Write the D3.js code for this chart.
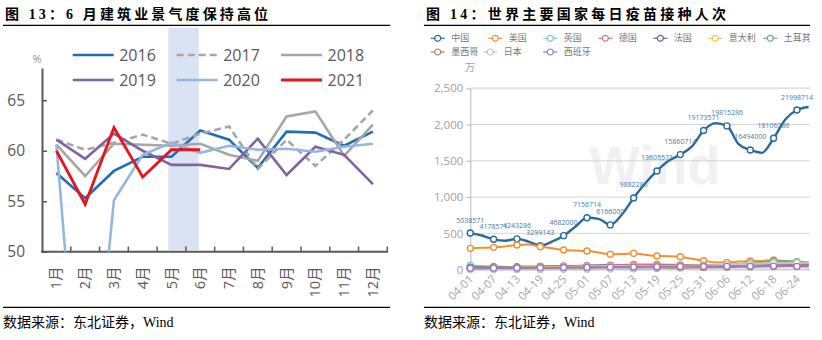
<!DOCTYPE html>
<html>
<head>
<meta charset="utf-8">
<script src="https://cdn.jsdelivr.net/npm/d3@7"></script>
<style>
  body { margin: 0; background: #fff; }
  svg { display: block; }
</style>
</head>
<body>
<div id="chart"></div>
<script>
// ---- 图13 建筑业商务活动指数 ----
var months = ["1月", "2月", "3月", "4月", "5月", "6月", "7月", "8月", "9月", "10月", "11月", "12月"];
var years = ["2016", "2017", "2018", "2019", "2020", "2021"];
var pmi2016 = [57.8, 55.3, 58.0, 59.4, 59.4, 62.0, 61.1, 58.3, 61.9, 61.8, 60.5, 61.9];
var pmi2017 = [61.1, 60.1, 60.8, 61.6, 60.7, 61.7, 62.4, 58.2, 61.1, 58.5, 61.1, 64.0];
var pmi2018 = [60.6, 57.5, 60.7, 60.6, 60.5, 60.7, 59.6, 59.0, 63.4, 63.9, 59.5, 62.6];
var pmi2019 = [61.1, 59.2, 61.7, 60.0, 58.6, 58.6, 58.2, 61.2, 57.6, 60.4, 59.6, 56.7];
var pmi2020 = [60.6, 26.0, 55.1, 59.6, 60.8, 59.8, 60.5, 60.1, 60.2, 59.9, 60.4, 60.7];
var pmi2021 = [60.0, 54.7, 62.3, 57.4, 60.1, 60.1];
var pmiTicks = [50, 55, 60, 65];

// ---- 图14 每日疫苗接种 ----
var countries = ["中国", "美国", "英国", "德国", "法国", "意大利", "土耳其", "墨西哥", "日本", "西班牙"];
var dates = ["04-01", "04-04", "04-07", "04-10", "04-13", "04-16", "04-19", "04-22", "04-25", "04-28",
  "05-01", "05-04", "05-07", "05-10", "05-13", "05-16", "05-19", "05-22", "05-25", "05-28", "05-31",
  "06-03", "06-06", "06-09", "06-12", "06-15", "06-18", "06-21", "06-24", "06-27"];
var dateTicks = ["04-01", "04-07", "04-13", "04-19", "04-25", "05-01", "05-07", "05-13", "05-19",
  "05-25", "05-31", "06-06", "06-12", "06-18", "06-24"];
// 中国按人次，其余按万人次
var chinaDoses = [5038571, 4700000, 4178571, 3980000, 4243286, 3850000, 3299143, 3850000, 4682000, 5900000,
  7156714, 7000000, 6166000, 7600000, 9882286, 11900000, 13605571, 15000000, 15860714, 17000000, 19173571,
  20200000, 19815286, 17300000, 16494000, 16100000, 18106286, 20700000, 21998714, 22430000];
var usDoses = [293, 300, 307, 320, 339, 345, 316, 295, 270, 262, 256, 235, 212, 215, 224, 205, 187, 185, 178, 150, 123,
  98, 100, 110, 118, 120, 132, 112, 95, 88];
var ukDoses = [58, 50, 42, 38, 35, 32, 30, 32, 35, 40, 42, 45, 48, 50, 52, 50, 48, 50, 52, 54, 50,
  45, 48, 50, 52, 55, 58, 60, 62, 60];
var deDoses = [28, 30, 32, 35, 38, 40, 42, 45, 48, 50, 55, 60, 62, 65, 70, 72, 70, 68, 65, 62, 60,
  62, 66, 70, 75, 78, 80, 75, 72, 70];
var frDoses = [30, 32, 34, 36, 38, 40, 42, 45, 48, 50, 52, 55, 55, 54, 52, 50, 52, 55, 58, 58, 55,
  58, 60, 62, 62, 60, 58, 55, 55, 52];
var itDoses = [22, 24, 26, 28, 30, 32, 35, 38, 40, 42, 45, 48, 50, 50, 52, 50, 50, 52, 54, 55, 55,
  56, 58, 58, 56, 55, 54, 52, 50, 48];
var trDoses = [30, 28, 26, 25, 24, 22, 20, 18, 18, 20, 22, 25, 25, 22, 20, 22, 25, 28, 30, 35, 40,
  50, 60, 75, 90, 105, 115, 120, 110, 100];
var mxDoses = [15, 14, 12, 10, 10, 12, 15, 16, 18, 20, 22, 20, 18, 16, 15, 18, 20, 22, 25, 28, 30,
  32, 35, 38, 40, 42, 45, 48, 50, 52];
var jpDoses = [0, 0, 1, 1, 2, 2, 3, 3, 4, 5, 6, 7, 8, 10, 14, 20, 25, 30, 35, 40, 50,
  60, 70, 75, 80, 85, 90, 92, 95, 95];
var esDoses = [18, 18, 20, 22, 22, 24, 25, 26, 28, 30, 30, 32, 34, 35, 36, 38, 40, 40, 42, 42, 42,
  44, 45, 46, 46, 48, 48, 46, 44, 42];
var doseTicks = [0, 500, 1000, 1500, 2000, 2500];

var svg = d3.select("#chart").append("svg")
  .attr("width", 822)
  .attr("height", 340);

var titleFont = "'Liberation Serif', 'Noto Sans CJK SC', serif";
var numFont = "'Open Sans', 'Noto Sans CJK SC', sans-serif";

// titles, rules and source notes for both panels
function frame(x0, x1, title, titleWidth) {
  svg.append("text")
    .attr("x", x0 + 2)
    .attr("y", 18.5)
    .attr("font-family", titleFont)
    .attr("font-weight", "bold")
    .attr("font-size", 14)
    .attr("textLength", titleWidth)
    .attr("lengthAdjust", "spacing")
    .text(title);
  svg.append("line")
    .attr("x1", x0).attr("x2", x1)
    .attr("y1", 25.3).attr("y2", 25.3)
    .attr("stroke", "#000").attr("stroke-width", 1.2);
  svg.append("line")
    .attr("x1", x0).attr("x2", x1)
    .attr("y1", 307.3).attr("y2", 307.3)
    .attr("stroke", "#000").attr("stroke-width", 1.2);
  svg.append("text")
    .attr("x", x0)
    .attr("y", 327)
    .attr("font-family", titleFont)
    .attr("font-size", 14)
    .text("数据来源：东北证券，Wind");
}
frame(3, 390, "图 13：6 月建筑业景气度保持高位", 263);
frame(424, 810, "图 14：世界主要国家每日疫苗接种人次", 300);

// ================= 图13 =================
var xMonth = d3.scaleBand().domain(months).range([42, 387.3]);
var bw = xMonth.bandwidth();
var yPmi = d3.scaleLinear().domain([50, 68.2]).range([251.7, 68]);

// 5-6月 highlight
svg.append("rect")
  .attr("x", xMonth("5月") + bw * 0.39)
  .attr("width", (xMonth("6月") + bw * 0.45) - (xMonth("5月") + bw * 0.39))
  .attr("y", 27.5)
  .attr("height", 250 - 27.5)
  .attr("fill", "#dae3f3");

var yAxisL = svg.append("g")
  .attr("transform", "translate(42,0)")
  .call(d3.axisLeft(yPmi).tickValues(pmiTicks).tickSize(-5).tickSizeOuter(0).tickPadding(17));
yAxisL.select(".domain").attr("stroke", "#595959").attr("stroke-width", 2);
yAxisL.selectAll(".tick line").attr("stroke", "#595959").attr("stroke-width", 1.5);
yAxisL.selectAll(".tick text")
  .attr("font-family", numFont)
  .attr("font-size", 15.5)
  .attr("fill", "#595959");

svg.append("text")
  .attr("x", 37)
  .attr("y", 63)
  .attr("text-anchor", "middle")
  .attr("font-family", numFont)
  .attr("font-size", 11)
  .attr("fill", "#8c8c8c")
  .text("%");

// month axis
svg.append("line")
  .attr("x1", 41).attr("x2", 388)
  .attr("y1", 251.7).attr("y2", 251.7)
  .attr("stroke", "#595959").attr("stroke-width", 2);
svg.selectAll(".mtick")
  .data(months)
  .enter().append("line")
  .attr("class", "mtick")
  .attr("x1", d => xMonth(d) + bw).attr("x2", d => xMonth(d) + bw)
  .attr("y1", 251.7).attr("y2", 246.5)
  .attr("stroke", "#595959").attr("stroke-width", 1.5);
svg.selectAll(".mlabel")
  .data(months)
  .enter().append("text")
  .attr("class", "mlabel")
  .attr("transform", d => `translate(${xMonth(d) + bw / 2},266.5) rotate(-90)`)
  .attr("dy", "0.35em")
  .attr("text-anchor", "end")
  .attr("font-family", numFont)
  .attr("font-size", 14.5)
  .attr("fill", "#595959")
  .text(d => d);

var pmiSeries = [
  { name: "2016", values: pmi2016, color: "#1f6fb8", width: 2.6, dash: null },
  { name: "2017", values: pmi2017, color: "#a6a6a6", width: 2.6, dash: "7,4" },
  { name: "2018", values: pmi2018, color: "#a6a6a6", width: 2.6, dash: null },
  { name: "2019", values: pmi2019, color: "#8064a2", width: 2.6, dash: null },
  { name: "2020", values: pmi2020, color: "#95b7df", width: 2.6, dash: null },
  { name: "2021", values: pmi2021, color: "#e8141b", width: 2.8, dash: null }
];

svg.append("clipPath").attr("id", "clipL")
  .append("rect").attr("x", 42).attr("y", 60).attr("width", 350).attr("height", 251.7 - 60);

var pmiLine = d3.line()
  .x((d, i) => xMonth(months[i]) + bw / 2)
  .y(d => yPmi(d));

svg.append("g").attr("clip-path", "url(#clipL)")
  .selectAll("path")
  .data(pmiSeries)
  .enter().append("path")
  .attr("d", d => pmiLine(d.values))
  .attr("fill", "none")
  .attr("stroke", d => d.color)
  .attr("stroke-width", d => d.width)
  .attr("stroke-dasharray", d => d.dash)
  .attr("stroke-linejoin", "miter");

// legend, 3 columns x 2 rows
var legL = svg.append("g")
  .selectAll("g")
  .data(pmiSeries)
  .enter().append("g")
  .attr("transform", (d, i) => `translate(${[72.7, 176.7, 281][i % 3]},${i < 3 ? 55 : 80})`);
legL.append("line")
  .attr("x1", 0).attr("x2", 41)
  .attr("stroke", d => d.color)
  .attr("stroke-width", d => d.width)
  .attr("stroke-dasharray", d => d.dash);
legL.append("text")
  .attr("x", 46.5)
  .attr("dy", "0.36em")
  .attr("font-family", numFont)
  .attr("font-size", 16)
  .attr("fill", "#595959")
  .text(d => d.name);

// ================= 图14 =================
var parseDay = d3.utcParse("%Y-%m-%d");
var toDate = s => parseDay("2021-" + s);
var xDay = d3.scaleUtc()
  .domain([toDate("04-01"), toDate("06-27")])
  .range([470.3, 808.6]);
var yDose = d3.scaleLinear().domain([0, 2500]).range([269.6, 88.3]);

// watermark
svg.append("text")
  .attr("x", 589)
  .attr("y", 184)
  .attr("font-family", "'Liberation Sans', Arial, sans-serif")
  .attr("font-weight", "bold")
  .attr("font-size", 54)
  .attr("fill", "#f1f1f1")
  .text("Wind");

svg.selectAll(".grid")
  .data(doseTicks.slice(1))
  .enter().append("line")
  .attr("class", "grid")
  .attr("x1", 470.3).attr("x2", 810)
  .attr("y1", d => yDose(d)).attr("y2", d => yDose(d))
  .attr("stroke", d => d === 2500 ? "#e2e2e2" : "#d4d4d4")
  .attr("stroke-width", d => d === 2500 ? 2 : 1);

var yAxisR = svg.append("g")
  .attr("transform", "translate(470.3,0)")
  .call(d3.axisLeft(yDose).tickValues(doseTicks).tickFormat(d3.format(",")).tickSize(4).tickSizeOuter(0).tickPadding(3));
yAxisR.select(".domain").attr("stroke", "#b5b5b5");
yAxisR.selectAll(".tick line").attr("stroke", "#b5b5b5");
yAxisR.selectAll(".tick text")
  .attr("font-family", numFont)
  .attr("font-size", 11.5)
  .attr("fill", "#a0a0a0");

svg.append("text")
  .attr("x", 470)
  .attr("y", 71)
  .attr("text-anchor", "middle")
  .attr("font-family", "'Noto Sans CJK SC', sans-serif")
  .attr("font-size", 10)
  .attr("fill", "#a0a0a0")
  .text("万");

svg.append("line")
  .attr("x1", 470.3).attr("x2", 810)
  .attr("y1", 269.6).attr("y2", 269.6)
  .attr("stroke", "#cfcfcf").attr("stroke-width", 2);

svg.selectAll(".dlabel")
  .data(dateTicks)
  .enter().append("text")
  .attr("class", "dlabel")
  .attr("transform", d => `translate(${xDay(toDate(d)) + 1},277) rotate(-45)`)
  .attr("dy", "0.35em")
  .attr("text-anchor", "end")
  .attr("font-family", numFont)
  .attr("font-size", 11.5)
  .attr("fill", "#a6a6a6")
  .text(d => d);

var doseSeries = [
  { name: "中国", values: chinaDoses.map(v => v / 10000), color: "#2a6b9c", width: 2.4 },
  { name: "美国", values: usDoses, color: "#f2902f", width: 2 },
  { name: "英国", values: ukDoses, color: "#7cc8c4", width: 2 },
  { name: "德国", values: deDoses, color: "#e57373", width: 2 },
  { name: "法国", values: frDoses, color: "#5d6b9a", width: 2 },
  { name: "意大利", values: itDoses, color: "#f4c54a", width: 2 },
  { name: "土耳其", values: trDoses, color: "#6aae7e", width: 2 },
  { name: "墨西哥", values: mxDoses, color: "#a9845e", width: 2 },
  { name: "日本", values: jpDoses, color: "#c4c4c4", width: 2 },
  { name: "西班牙", values: esDoses, color: "#9b78c8", width: 2 }
];

var doseLine = d3.line()
  .x((d, i) => xDay(toDate(dates[i])))
  .y(d => yDose(d))
  .curve(d3.curveMonotoneX);

var seriesG = svg.append("g")
  .selectAll("g")
  .data(doseSeries)
  .enter().append("g");
seriesG.append("path")
  .attr("d", d => doseLine(d.values))
  .attr("fill", "none")
  .attr("stroke", d => d.color)
  .attr("stroke-width", d => d.width);
seriesG.selectAll("circle")
  .data(d => d.values
    .map((v, i) => ({ date: dates[i], v: v, color: d.color }))
    .filter(p => dateTicks.indexOf(p.date) >= 0))
  .enter().append("circle")
  .attr("cx", p => xDay(toDate(p.date)))
  .attr("cy", p => yDose(p.v))
  .attr("r", 3)
  .attr("fill", "#fff")
  .attr("stroke", p => p.color)
  .attr("stroke-width", 1.4);

// 中国数值标签
var chinaPts = chinaDoses
  .map((v, i) => ({ date: dates[i], v: v }))
  .filter(p => dateTicks.indexOf(p.date) >= 0);
svg.selectAll(".vlabel")
  .data(chinaPts)
  .enter().append("text")
  .attr("class", "vlabel")
  .attr("x", p => xDay(toDate(p.date)))
  .attr("y", p => yDose(p.v / 10000) - 13)
  .attr("dy", "0.35em")
  .attr("text-anchor", "middle")
  .attr("font-family", numFont)
  .attr("font-size", 7)
  .attr("fill", "#3d7db0")
  .text(p => d3.format("d")(p.v));

// legend, clipped at the panel edge
svg.append("clipPath").attr("id", "clipLeg")
  .append("rect").attr("x", 424).attr("y", 28).attr("width", 386).attr("height", 34);
var legX = [430.7, 488.3, 543.3, 598.3, 653.3, 708.3, 763.3, 430.7, 483.3, 543.3];
var legR = svg.append("g").attr("clip-path", "url(#clipLeg)")
  .selectAll("g")
  .data(doseSeries)
  .enter().append("g")
  .attr("transform", (d, i) => `translate(${legX[i]},${i < 7 ? 38.3 : 52})`);
legR.append("line")
  .attr("x1", 0).attr("x2", 14)
  .attr("stroke", d => d.color)
  .attr("stroke-width", 1.2);
legR.append("circle")
  .attr("cx", 7)
  .attr("r", 3)
  .attr("fill", "#fff")
  .attr("stroke", d => d.color)
  .attr("stroke-width", 1.2);
legR.append("text")
  .attr("x", 20.5)
  .attr("dy", "0.35em")
  .attr("font-family", "'Noto Sans CJK SC', sans-serif")
  .attr("font-size", 9)
  .attr("fill", "#777")
  .text(d => d.name);
</script>
</body>
</html>
